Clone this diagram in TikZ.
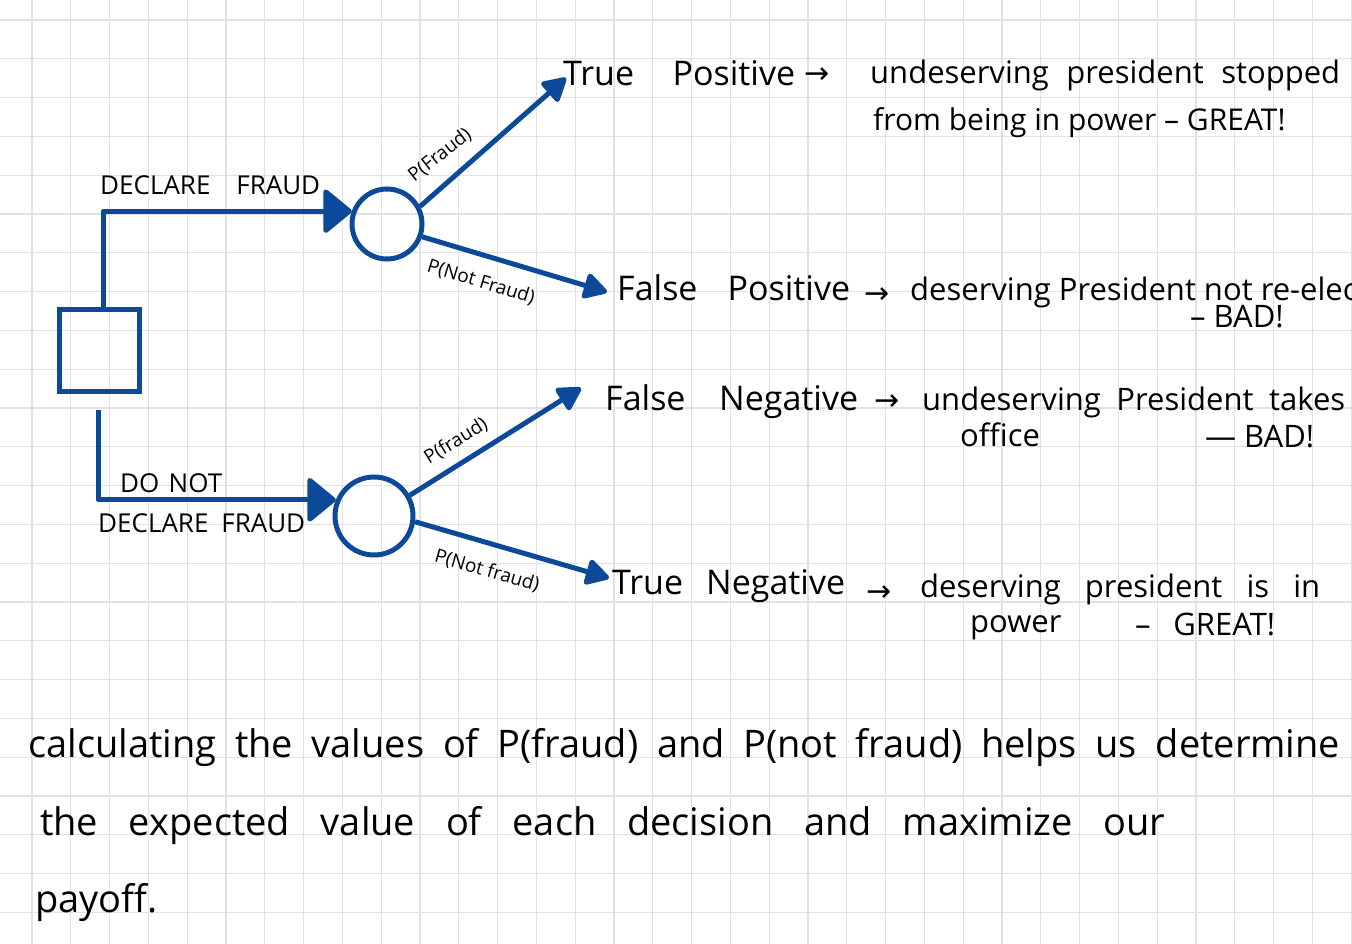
\documentclass[tikz,border=0pt]{standalone}
\usepackage{fontspec}
\setmainfont{Open Sans}
\newfontfamily\symfont{DejaVu Sans}
\usetikzlibrary{arrows.meta}
\definecolor{pen}{RGB}{12,74,153}
\definecolor{gridc}{RGB}{226,226,226}
\newcommand\spread[2]{\makebox[#1][s]{#2}}
\begin{document}
\begin{tikzpicture}[x=1pt,y=-1pt,
  gridline/.style={draw=gridc, line width=1.3pt},
  penline/.style={draw=pen, line width=5pt, line join=round},
  tipbig/.style={-{Triangle[length=30pt,width=48pt,round]}},
  tipsmall/.style={-{Triangle[length=26pt,width=28pt,round]}},
  lab/.style={anchor=base west, inner sep=0pt, font=\fontsize{34}{40}\selectfont},
  hw/.style={anchor=base west, inner sep=0pt, font=\fontsize{31}{37}\selectfont},
  body/.style={anchor=base west, inner sep=0pt, font=\fontsize{38}{44}\selectfont},
  caps/.style={anchor=base west, inner sep=0pt, font=\fontsize{26}{30}\selectfont},
  prob/.style={inner sep=0pt, font=\fontsize{19}{22}\selectfont},
  arr/.style={anchor=base west, inner sep=0pt, font=\fontsize{30}{34}\symfont},
  chance/.style={circle, draw=pen, line width=5pt, inner sep=0pt},
  decision/.style={rectangle, draw=pen, line width=5pt, inner sep=0pt}
]
\useasboundingbox (0,0) rectangle (1352,944);
\fill[white] (0,0) rectangle (1352,944);
% grid
\foreach \i in {0,...,34} { \draw[gridline] (32+38.8*\i,0) -- (32+38.8*\i,944); }
\foreach \j in {0,...,23} { \draw[gridline] (0,20+38.8*\j) -- (1352,20+38.8*\j); }

% nodes
\node[decision, minimum width=80pt, minimum height=82pt] (dec) at (99,350) {};
\node[chance, minimum size=70pt] (c1) at (387,224) {};
\node[chance, minimum size=78pt] (c2) at (374,516) {};

\coordinate (tpEnd) at (566,78);
\coordinate (fpEnd) at (607,292);
\coordinate (fnEnd) at (581,388);
\coordinate (tnEnd) at (609,578);

% connectors
\draw[penline, tipbig] ([xshift=4pt]dec.north) |- (c1.160);
\draw[penline, tipbig] ([shift={(-1pt,-16pt)}]dec.south) |- (c2.157);
\draw[penline, tipsmall] (c1.28) -- (tpEnd);
\draw[penline, tipsmall] (c1.-20) -- (fpEnd);
\draw[penline, tipsmall] (c2.30) -- (fnEnd);
\draw[penline, tipsmall] (c2.-8) -- (tnEnd);

% branch labels
\node[caps] (l1) at (100,195) {\spread{220pt}{DECLARE FRAUD}};
\node[caps] (l2) at (120,492) {\spread{102pt}{DO NOT}};
\node[caps] (l3) at (98,532) {\spread{207pt}{DECLARE FRAUD}};
\node[prob, rotate=38] (p1) at (440,155) {P(Fraud)};
\node[prob, rotate=-17] (p2) at (481,282) {P(Not Fraud)};
\node[prob, rotate=32] (p3) at (456,441) {P(fraud)};
\node[prob, rotate=-16] (p4) at (487,571) {P(Not fraud)};

% outcomes
\node[lab] (tp1) at (563,86) {\spread{232pt}{True Positive}};
\node[arr] (tpa) at (804,84) {→};
\node[hw] (tp2) at (870,84) {\spread{470pt}{undeserving president stopped}};
\node[hw, font=\fontsize{30}{36}\selectfont] (tp3) at (873,131) {from being in power – GREAT!};

\node[lab] (fp1) at (617,300) {\spread{233pt}{False Positive}};
\node[arr] (fpa) at (864,303) {→};
\node[hw] (fp2) at (910,300) {deserving President not re-elected};
\node[hw] (fp3) at (1190,327) {– BAD!};

\node[lab] (fn1) at (605,410) {\spread{253pt}{False Negative}};
\node[arr] (fna) at (874,410) {→};
\node[hw] (fn2) at (922,410) {\spread{423pt}{undeserving President takes}};
\node[hw] (fn3) at (960,446) {office};
\node[hw] (fn4) at (1205,447) {— BAD!};

\node[lab] (tn1) at (612,594) {\spread{233pt}{True Negative}};
\node[arr] (tna) at (866,601) {→};
\node[hw] (tn2) at (920,597) {\spread{400pt}{deserving president is in}};
\node[hw] (tn3) at (970,632) {power};
\node[hw] (tn4) at (1135,635) {\spread{140pt}{– GREAT!}};

% bottom text
\node[body] (b1) at (28,757) {\spread{1312pt}{calculating the values of P(fraud) and P(not fraud) helps us determine}};
\node[body] (b2) at (40,835) {\spread{1125pt}{the expected value of each decision and maximize our}};
\node[body] (b3) at (35,912) {payoff.};
\end{tikzpicture}
\end{document}
